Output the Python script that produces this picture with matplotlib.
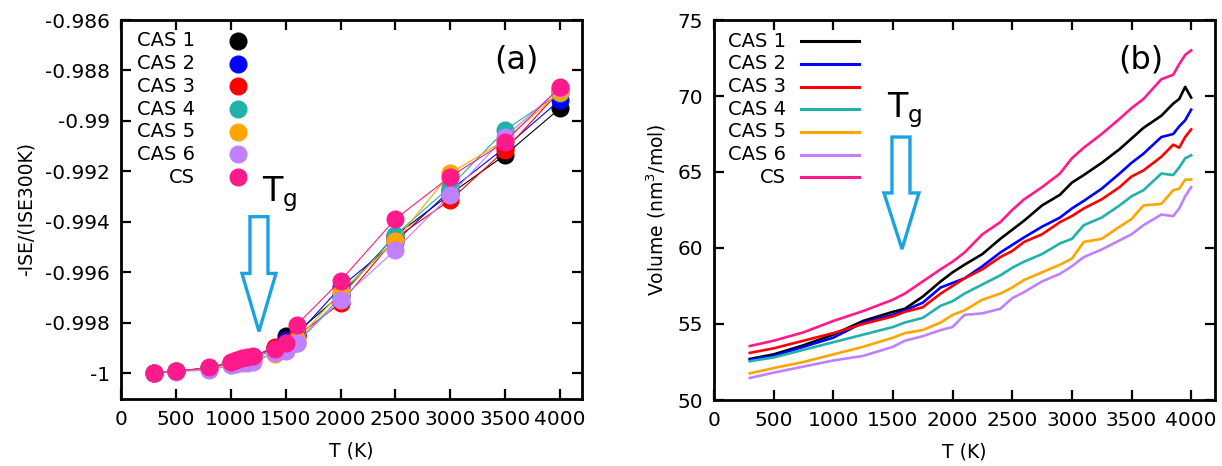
import matplotlib
matplotlib.use("Agg")
import matplotlib.pyplot as plt
from matplotlib.patches import Polygon

# ---------------- data ----------------
names = ["CAS 1", "CAS 2", "CAS 3", "CAS 4", "CAS 5", "CAS 6", "CS"]
colors = ["#000000", "#0000ff", "#ff0000", "#20b2aa", "#ffa500", "#c080ff", "#ff1a8c"]

# panel (a): -ISE/(ISE300K) vs T
T_a = [300, 500, 800, 1000, 1050, 1100, 1150, 1200, 1400, 1500, 1600, 2000, 2500, 3000, 3500, 4000]
ise_cas1 = [-1.0000, -0.99993, -0.99980, -0.99960, -0.99953, -0.99945, -0.99940, -0.99935, -0.99900, -0.99855, -0.99840, -0.99690, -0.99455, -0.99290, -0.99135, -0.98950]
ise_cas2 = [-1.0000, -0.99993, -0.99980, -0.99960, -0.99952, -0.99946, -0.99940, -0.99935, -0.99900, -0.99870, -0.99850, -0.99660, -0.99479, -0.99275, -0.99105, -0.98917]
ise_cas3 = [-1.0000, -0.99993, -0.99980, -0.99962, -0.99955, -0.99948, -0.99942, -0.99938, -0.99895, -0.99880, -0.99855, -0.99723, -0.99465, -0.99314, -0.99116, -0.98880]
ise_cas4 = [-1.0000, -0.99993, -0.99982, -0.99962, -0.99956, -0.99950, -0.99945, -0.99940, -0.99910, -0.99885, -0.99880, -0.99700, -0.99452, -0.99261, -0.99036, -0.98890]
ise_cas5 = [-1.0000, -0.99993, -0.99985, -0.99968, -0.99960, -0.99955, -0.99950, -0.99945, -0.99925, -0.99895, -0.99870, -0.99680, -0.99475, -0.99208, -0.99075, -0.98885]
ise_cas6 = [-1.0000, -0.99995, -0.99988, -0.99970, -0.99965, -0.99962, -0.99960, -0.99958, -0.99920, -0.99914, -0.99881, -0.99710, -0.99512, -0.99294, -0.99063, -0.98871]
ise_cs = [-1.0000, -0.99993, -0.99978, -0.99955, -0.99948, -0.99942, -0.99937, -0.99932, -0.99905, -0.99880, -0.99809, -0.99634, -0.99389, -0.99221, -0.99083, -0.98865]
ise_series = [ise_cas1, ise_cas2, ise_cas3, ise_cas4, ise_cas5, ise_cas6, ise_cs]

# panel (b): Volume vs T
T_b = [300, 500, 750, 1000, 1250, 1500, 1600, 1750, 1900, 2000, 2100, 2250, 2400, 2500,
       2600, 2750, 2900, 3000, 3100, 3250, 3400, 3500, 3600, 3750, 3850, 3900, 3950, 4000]
vol_cas1 = [52.7, 53.0, 53.6, 54.3, 55.2, 55.8, 56.0, 56.8, 57.8, 58.4, 58.9, 59.6, 60.6, 61.2,
            61.8, 62.8, 63.5, 64.3, 64.8, 65.6, 66.5, 67.2, 67.9, 68.7, 69.5, 69.8, 70.6, 69.9]
vol_cas2 = [52.65, 52.9, 53.5, 54.1, 55.1, 55.6, 55.9, 56.4, 57.4, 57.7, 58.0, 58.8, 59.7, 60.2,
            60.7, 61.4, 62.0, 62.6, 63.1, 63.9, 64.9, 65.6, 66.2, 67.3, 67.5, 68.0, 68.4, 69.1]
vol_cas3 = [53.1, 53.4, 53.9, 54.4, 55.0, 55.5, 55.8, 56.1, 57.0, 57.5, 58.0, 58.6, 59.4, 59.8,
            60.4, 60.9, 61.7, 62.1, 62.6, 63.2, 64.0, 64.7, 65.1, 66.0, 66.8, 66.6, 67.3, 67.8]
vol_cas4 = [52.55, 52.8, 53.3, 53.8, 54.3, 54.8, 55.1, 55.4, 56.2, 56.5, 57.0, 57.6, 58.2, 58.7,
            59.1, 59.6, 60.3, 60.6, 61.5, 62.0, 62.8, 63.4, 63.8, 64.9, 64.8, 65.3, 65.9, 66.1]
vol_cas5 = [51.75, 52.1, 52.5, 53.0, 53.5, 54.1, 54.4, 54.6, 55.1, 55.6, 55.9, 56.6, 57.0, 57.4,
            57.9, 58.4, 58.9, 59.3, 60.4, 60.6, 61.4, 61.9, 62.8, 62.9, 63.8, 63.9, 64.5, 64.5]
vol_cas6 = [51.45, 51.8, 52.2, 52.6, 52.9, 53.5, 53.9, 54.2, 54.6, 54.8, 55.6, 55.7, 56.0, 56.7,
            57.1, 57.8, 58.3, 58.8, 59.4, 59.9, 60.5, 60.9, 61.5, 62.2, 62.1, 62.6, 63.4, 64.0]
vol_cs = [53.55, 53.9, 54.45, 55.2, 55.85, 56.6, 57.0, 57.8, 58.6, 59.1, 59.7, 60.9, 61.7, 62.5,
          63.2, 64.0, 64.9, 65.9, 66.6, 67.5, 68.5, 69.2, 69.8, 71.1, 71.4, 72.1, 72.7, 73.0]
vol_series = [vol_cas1, vol_cas2, vol_cas3, vol_cas4, vol_cas5, vol_cas6, vol_cs]

xticks = [0, 500, 1000, 1500, 2000, 2500, 3000, 3500, 4000]
yticks_a = [-1.0, -0.998, -0.996, -0.994, -0.992, -0.99, -0.988, -0.986]
yticklabels_a = ["-1", "-0.998", "-0.996", "-0.994", "-0.992", "-0.99", "-0.988", "-0.986"]
yticks_b = [50, 55, 60, 65, 70, 75]

# ---------------- figure ----------------
plt.rcParams["font.family"] = ["DejaVu Sans"]
FS = 13.5
TFS = 14.5
arrow_col = "#1aa3e0"

fig = plt.figure(figsize=(12.22, 4.66), dpi=100)
axA = fig.add_axes([121 / 1222, 1 - 399 / 466, 461 / 1222, 379 / 466])
axB = fig.add_axes([714 / 1222, 1 - 400 / 466, 501 / 1222, 380 / 466])


def style(ax):
    for s in ax.spines.values():
        s.set_linewidth(2.0)
    ax.tick_params(direction="in", length=7, width=1.6, top=True, right=True,
                   labelsize=TFS, pad=8)
    ax.set_xticks(xticks)
    ax.set_xlim(0, 4200)
    ax.set_xlabel("T (K)", fontsize=FS, labelpad=9)


def manual_legend(ax, xt, xs0, xs1, marker):
    for i, (n, c) in enumerate(zip(names, colors)):
        y = 1 - (41 + 22.67 * i - 20) / 379
        ax.text(xt, y, n, transform=ax.transAxes, ha="right", va="center", fontsize=14)
        if marker:
            ax.plot([xs0], [y], transform=ax.transAxes, marker="o", ms=12,
                    color=c, ls="none", clip_on=False)
        else:
            ax.plot([xs0, xs1], [y, y], transform=ax.transAxes, color=c, lw=2.2,
                    clip_on=False)


# panel (a)
for vals, c in zip(ise_series, colors):
    axA.plot(T_a, vals, color=c, lw=0.8, marker="o", ms=12, mec=c, mfc=c)
style(axA)
axA.set_ylim(-1.00103, -0.986)
axA.set_yticks(yticks_a)
axA.set_yticklabels(yticklabels_a, fontsize=TFS)
axA.set_ylabel("-ISE/(ISE300K)", fontsize=FS, labelpad=7)
manual_legend(axA, 0.1605, 0.2538, None, True)
axA.text(0.858, 0.895, "(a)", transform=axA.transAxes, fontsize=23, ha="center", va="center")
axA.text(1450, -0.9929, r"$\mathregular{T_g}$", fontsize=24, ha="center", va="center")
arrowA = Polygon([[1175, -0.99380], [1339, -0.99380], [1339, -0.99605], [1412, -0.99605],
                  [1257, -0.99835], [1102, -0.99605], [1175, -0.99605]],
                 closed=True, fill=False, edgecolor=arrow_col, lw=2.4)
axA.add_patch(arrowA)

# panel (b)
for vals, c in zip(vol_series, colors):
    axB.plot(T_b, vals, color=c, lw=1.9)
style(axB)
axB.set_ylim(50, 75)
axB.set_yticks(yticks_b)
axB.set_ylabel("Volume (nm$^3$/mol)", fontsize=FS, labelpad=7)
manual_legend(axB, 0.1437, 0.1737, 0.2894, False)
axB.text(0.851, 0.895, "(b)", transform=axB.transAxes, fontsize=23, ha="center", va="center")
axB.text(1600, 69.1, r"$\mathregular{T_g}$", fontsize=24, ha="center", va="center")
arrowB = Polygon([[1492, 67.30], [1643, 67.30], [1643, 63.62], [1718, 63.62],
                  [1576, 59.93], [1425, 63.62], [1492, 63.62]],
                 closed=True, fill=False, edgecolor=arrow_col, lw=2.4)
axB.add_patch(arrowB)

fig.savefig("out.png", dpi=100)
